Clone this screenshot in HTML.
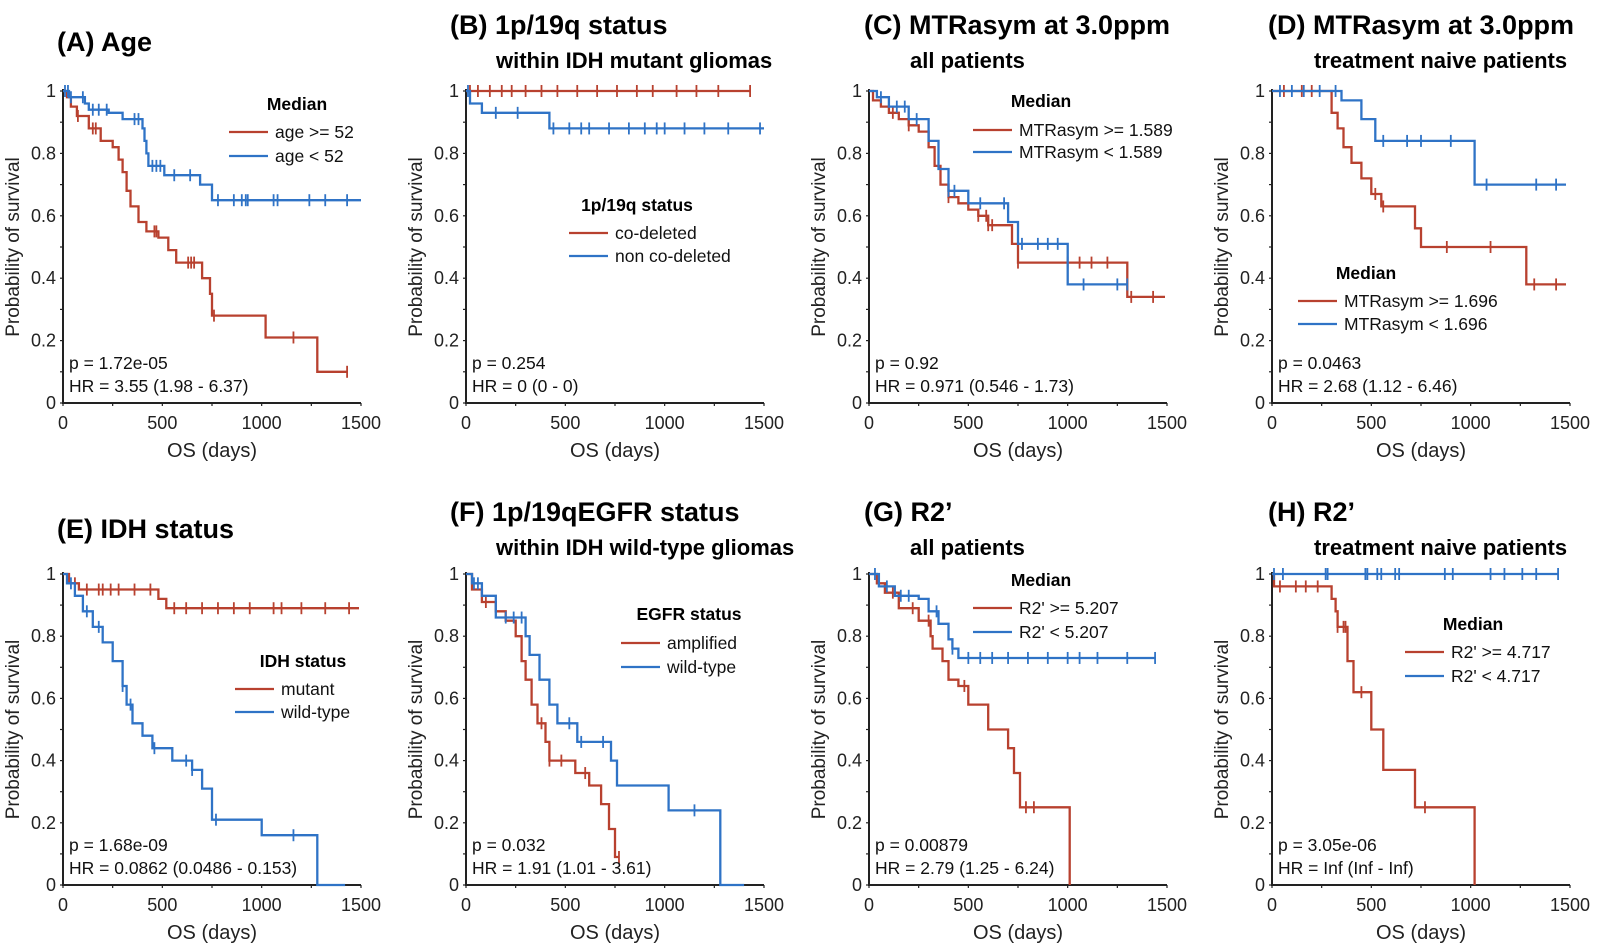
<!DOCTYPE html>
<html><head><meta charset="utf-8">
<style>
html,body{margin:0;padding:0;background:#fff;}
svg{display:block;font-family:"Liberation Sans",Arial,sans-serif;}
</style></head>
<body>
<svg id="fig" width="1608" height="943" viewBox="0 0 1608 943" xmlns="http://www.w3.org/2000/svg"></svg>
<script>
// ---------- data (days, survival probability) ----------
const xTicks = [0, 500, 1000, 1500];
const yTicks = [0, 0.2, 0.4, 0.6, 0.8, 1];
const yTickLabels = ["0", "0.2", "0.4", "0.6", "0.8", "1"];

const A_redT = [20,40,70,130,190,250,280,300,320,340,380,420,480,530,570,700,740,750,1020,1280];
const A_redS = [0.98,0.95,0.92,0.88,0.84,0.82,0.78,0.74,0.68,0.63,0.58,0.55,0.53,0.49,0.45,0.40,0.35,0.28,0.21,0.10];
const A_redC = [75,150,165,460,470,630,645,660,760,1160,1430];
const A_blueT = [30,110,130,230,300,400,410,420,430,510,690,750];
const A_blueS = [0.98,0.96,0.94,0.93,0.91,0.88,0.84,0.80,0.76,0.73,0.70,0.65];
const A_blueC = [10,25,40,100,150,180,220,360,380,450,470,490,560,640,780,860,900,920,930,1060,1080,1240,1320,1430];

const B_redT = [];
const B_redS = [];
const B_redC = [20,60,120,180,230,300,380,460,560,660,760,860,940,1060,1160,1270,1430];
const B_blueT = [20,80,420];
const B_blueS = [0.96,0.93,0.88];
const B_blueC = [10,150,260,440,520,580,620,720,820,900,960,1000,1100,1200,1320,1480];

const C_redT = [20,60,100,150,200,250,300,330,360,400,450,500,550,600,720,750,1300];
const C_redS = [0.97,0.95,0.93,0.91,0.89,0.87,0.82,0.76,0.70,0.66,0.64,0.62,0.60,0.57,0.51,0.45,0.34];
const C_redC = [120,200,400,550,590,600,620,750,1000,1060,1120,1200,1320,1430];
const C_blueT = [40,100,200,300,350,400,500,700,750,1000];
const C_blueS = [0.98,0.95,0.91,0.84,0.75,0.68,0.64,0.58,0.51,0.38];
const C_blueC = [60,140,180,240,400,430,560,680,770,850,900,950,1080,1250,1300];

const D_redT = [300,330,360,400,450,500,550,720,750,1280];
const D_redS = [0.93,0.88,0.82,0.77,0.72,0.67,0.63,0.56,0.50,0.38];
const D_redC = [60,150,200,520,560,880,1100,1320,1430];
const D_blueT = [350,450,520,1020];
const D_blueS = [0.97,0.91,0.84,0.70];
const D_blueC = [40,100,160,240,320,560,680,750,900,1080,1330,1430];

const E_redT = [30,80,480,520];
const E_redS = [0.97,0.95,0.92,0.89];
const E_redC = [60,120,180,200,240,280,360,440,560,620,700,780,860,940,1060,1100,1200,1320,1440];
const E_blueT = [20,60,100,150,200,250,300,320,350,400,450,550,650,700,750,1000,1280];
const E_blueS = [0.97,0.93,0.88,0.83,0.78,0.72,0.64,0.58,0.52,0.48,0.44,0.40,0.37,0.31,0.21,0.16,0];
const E_blueC = [40,120,180,300,340,460,620,650,770,1160];
const E_blueEnd = 1420;

const F_redT = [30,80,150,200,250,280,300,330,360,400,420,550,620,680,720,750];
const F_redS = [0.95,0.91,0.88,0.85,0.80,0.72,0.66,0.58,0.52,0.46,0.40,0.36,0.32,0.26,0.18,0.09];
const F_redC = [100,380,420,480,600,770];
const F_blueT = [30,80,150,300,320,370,420,460,560,730,760,1020,1280];
const F_blueS = [0.97,0.93,0.86,0.80,0.74,0.66,0.58,0.52,0.46,0.40,0.32,0.24,0];
const F_blueC = [40,60,200,240,280,520,580,690,1150];
const F_blueEnd = 1400;

const G_redT = [40,80,150,250,310,320,370,400,450,500,600,700,730,760,1010];
const G_redS = [0.97,0.94,0.89,0.85,0.80,0.76,0.72,0.66,0.64,0.58,0.50,0.44,0.36,0.25,0];
const G_redC = [120,220,300,480,790,830];
const G_blueT = [50,130,250,300,350,400,420,450];
const G_blueS = [0.96,0.93,0.92,0.88,0.84,0.79,0.76,0.73];
const G_blueC = [30,90,160,200,340,420,500,560,620,700,800,900,1000,1060,1150,1300,1440];

const H_redT = [10,300,320,330,380,410,500,560,720,1020];
const H_redS = [0.96,0.92,0.88,0.83,0.72,0.62,0.50,0.37,0.25,0];
const H_redC = [40,120,170,230,330,360,370,450,770];
const H_blueT = [];
const H_blueS = [];
const H_blueC = [10,55,270,280,470,480,530,550,620,640,870,910,1100,1170,1260,1330,1440];
</script>
<script>
const NS = "http://www.w3.org/2000/svg";
const svg = document.getElementById("fig");
const RED = "#b8412f", BLUE = "#2f73c6";
const COLX = [63, 466, 869, 1272];
const ROWY = [[91, 403], [574, 885]];
const W = 298;

function mk(tag, attrs, parent, text) {
  const e = document.createElementNS(NS, tag);
  for (const k in attrs) e.setAttribute(k, attrs[k]);
  if (text !== undefined) e.textContent = text;
  (parent || svg).appendChild(e);
  return e;
}

const panels = [
  {id:"a",c:0,r:0,title:"(A) Age",sub:"",tx:57,ty:42,legTitle:"Median",lx:229,ly:104,labels:["age >= 52","age < 52"],rows:[132,156],
   red:[A_redT,A_redS,A_redC,1430],blue:[A_blueT,A_blueS,A_blueC,1500],p:"p = 1.72e-05",hr:"HR = 3.55 (1.98 - 6.37)"},
  {id:"b",c:1,r:0,title:"(B) 1p/19q status",sub:"within IDH mutant gliomas",tx:450,ty:25,legTitle:"1p/19q status",lx:569,ly:205,labels:["co-deleted","non co-deleted"],rows:[233,256],
   red:[B_redT,B_redS,B_redC,1430],blue:[B_blueT,B_blueS,B_blueC,1500],p:"p = 0.254",hr:"HR = 0 (0 - 0)"},
  {id:"c",c:2,r:0,title:"(C) MTRasym at 3.0ppm",sub:"all patients",tx:864,ty:25,legTitle:"Median",lx:973,ly:101,labels:["MTRasym >= 1.589","MTRasym < 1.589"],rows:[130,152],
   red:[C_redT,C_redS,C_redC,1490],blue:[C_blueT,C_blueS,C_blueC,1300],p:"p = 0.92",hr:"HR = 0.971 (0.546 - 1.73)"},
  {id:"d",c:3,r:0,title:"(D) MTRasym at 3.0ppm",sub:"treatment naive patients",tx:1268,ty:25,legTitle:"Median",lx:1298,ly:273,labels:["MTRasym >= 1.696","MTRasym < 1.696"],rows:[301,324],
   red:[D_redT,D_redS,D_redC,1480],blue:[D_blueT,D_blueS,D_blueC,1480],p:"p = 0.0463",hr:"HR = 2.68 (1.12 - 6.46)"},
  {id:"e",c:0,r:1,title:"(E) IDH status",sub:"",tx:57,ty:529,legTitle:"IDH status",lx:235,ly:661,labels:["mutant","wild-type"],rows:[689,712],
   red:[E_redT,E_redS,E_redC,1490],blue:[E_blueT,E_blueS,E_blueC,E_blueEnd],p:"p = 1.68e-09",hr:"HR = 0.0862 (0.0486 - 0.153)"},
  {id:"f",c:1,r:1,title:"(F) 1p/19qEGFR status",sub:"within IDH wild-type gliomas",tx:450,ty:512,legTitle:"EGFR status",lx:621,ly:614,labels:["amplified","wild-type"],rows:[643,667],
   red:[F_redT,F_redS,F_redC,770],blue:[F_blueT,F_blueS,F_blueC,F_blueEnd],p:"p = 0.032",hr:"HR = 1.91 (1.01 - 3.61)"},
  {id:"g",c:2,r:1,title:"(G) R2\u2019",sub:"all patients",tx:864,ty:512,legTitle:"Median",lx:973,ly:580,labels:["R2' >= 5.207","R2' < 5.207"],rows:[608,632],
   red:[G_redT,G_redS,G_redC,1010],blue:[G_blueT,G_blueS,G_blueC,1440],p:"p = 0.00879",hr:"HR = 2.79 (1.25 - 6.24)"},
  {id:"h",c:3,r:1,title:"(H) R2\u2019",sub:"treatment naive patients",tx:1268,ty:512,legTitle:"Median",lx:1405,ly:624,labels:["R2' >= 4.717","R2' < 4.717"],rows:[652,676],
   red:[H_redT,H_redS,H_redC,1020],blue:[H_blueT,H_blueS,H_blueC,1440],p:"p = 3.05e-06",hr:"HR = Inf (Inf - Inf)"}
];

function survAt(T, S, t) { let s = 1; for (let i = 0; i < T.length; i++) if (T[i] <= t) s = S[i]; return s; }

panels.forEach(P => {
  const x0 = COLX[P.c], y1 = ROWY[P.r][0], y0 = ROWY[P.r][1];
  const X = d => x0 + d / 1500 * W;
  const Y = v => y0 - v * (y0 - y1);
  const g = mk("g", {});
  
  

  const t1 = mk("text", {x:P.tx, y:P.ty + 9, "font-size":27, "font-weight":"bold", fill:"#000"}, g, P.title);
  
  
  if (P.sub) {
    const t2 = mk("text", {x:P.tx + 46, y:P.ty + 43, "font-size":22, "font-weight":"bold", fill:"#000"}, g, P.sub);
    
    
  }

  const ax = mk("path", {d:`M${x0},${y1-2} V${y0} H${x0+W}`, stroke:"#222", "stroke-width":2, fill:"none"}, g);
  
  
  for (let k = 0; k <= 10; k++) {
    const yy = Y(k / 10);
    mk("line", {x1:x0-3, x2:x0, y1:yy, y2:yy, stroke:"#222", "stroke-width":1.2}, g);
  }
  for (let k = 0; k <= 6; k++) {
    const xx = X(k * 250);
    mk("line", {x1:xx, x2:xx, y1:y0, y2:y0 + 3, stroke:"#222", "stroke-width":1.2}, g);
  }
  yTicks.forEach((v, i) => {
    const tl = mk("text", {x:x0 - 7, y:Y(v) + 6, "font-size":18, "text-anchor":"end", fill:"#222"}, g, yTickLabels[i]);
    
    
  });
  xTicks.forEach(v => {
    const tl = mk("text", {x:X(v), y:y0 + 26, "font-size":18, "text-anchor":"middle", fill:"#222"}, g, String(v));
    
    
  });
  const yl = mk("text", {x:0, y:0, "font-size":19, "text-anchor":"middle", fill:"#222", transform:`translate(${x0-44},${(y0+y1)/2}) rotate(-90)`}, g, "Probability of survival");
  
  
  const xl = mk("text", {x:x0 + W/2, y:y0 + 54, "font-size":20, "text-anchor":"middle", fill:"#222"}, g, "OS (days)");
  
  

  [["red", RED, P.red], ["blue", BLUE, P.blue]].forEach(([nm, col, D]) => {
    const [T, S, C, end] = D;
    let d = `M${X(0)},${Y(1)}`;
    for (let i = 0; i < T.length; i++) d += ` H${X(T[i]).toFixed(1)} V${Y(S[i]).toFixed(1)}`;
    d += ` H${X(end).toFixed(1)}`;
    const p = mk("path", {d, stroke:col, "stroke-width":2.3, fill:"none"}, g);
    
    
    C.forEach(t => {
      const yy = Y(survAt(T, S, t));
      const cm = mk("line", {x1:X(t), x2:X(t), y1:yy - 6, y2:yy + 6, stroke:col, "stroke-width":1.8}, g);
      
      
    });
  });

  const lg = mk("g", {}, g);
  
  
  const textX = P.lx + 46;
  const lt = mk("text", {x:(P.lx + textX + 80) / 2 + 5, y:P.ly + 6, "font-size":17.5, "font-weight":"bold", "text-anchor":"middle", fill:"#000"}, lg, P.legTitle);
  
  
  [RED, BLUE].forEach((col, i) => {
    const yy = P.rows[i];
    mk("line", {x1:P.lx, x2:P.lx + 39, y1:yy, y2:yy, stroke:col, "stroke-width":2.3}, lg);
    const le = mk("text", {x:textX, y:yy + 6, "font-size":17.5, fill:"#111"}, lg, P.labels[i]);
    
    
  });

  const pt = mk("text", {x:x0 + 6, y:y0 - 34, "font-size":17.5, fill:"#111"}, g, P.p);
  
  
  const ht = mk("text", {x:x0 + 6, y:y0 - 11, "font-size":17.5, fill:"#111"}, g, P.hr);
  
  
});
</script>
</body></html>
